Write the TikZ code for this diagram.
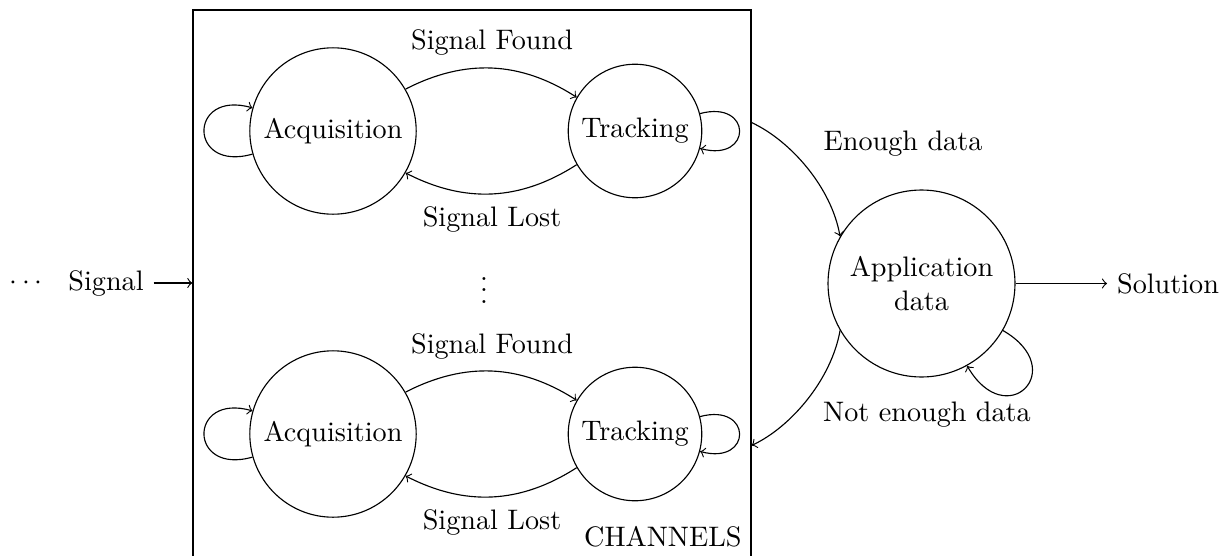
\documentclass[tikz,border=0pt]{standalone}
\usetikzlibrary{arrows}
\begin{document}
\begin{tikzpicture}[x=0.3546pt, y=-0.3546pt,
  state/.style={draw, circle},
  chanbox/.style={draw, rectangle, minimum width=197.9pt, minimum height=194.3pt},
  flow/.style={->}]
\useasboundingbox (0,0) rectangle (1231,556);

% channel container
\node[chanbox] (box) at (472,284) {};
\node[anchor=south east] (chan) at ([yshift=0.6pt]box.south east) {CHANNELS};

% first channel
\node[state, minimum size=59pt] (acq1) at (333,131) {Acquisition};
\node[state] (trk1) at (635,131) {Tracking};
\draw[flow] (acq1) to[bend left] (trk1);
\draw[flow] (trk1) to[bend left] (acq1);
\node (found1) at (492,42) {Signal Found};
\node (lost1) at (492,219) {Signal Lost};
\draw[flow] (acq1.196) .. controls +(196:23.8pt) and +(164:23.8pt) .. (acq1.164);
\draw[flow] (trk1.15) .. controls +(15:19.3pt) and +(-15:19.3pt) .. (trk1.-15);

% further channels
\node (vdots) at (484,282) {$\vdots$};

% last channel
\node[state, minimum size=59pt] (acq2) at (333,434) {Acquisition};
\node[state] (trk2) at (635,434) {Tracking};
\draw[flow] (acq2) to[bend left] (trk2);
\draw[flow] (trk2) to[bend left] (acq2);
\node (found2) at (492,346) {Signal Found};
\node (lost2) at (492,522) {Signal Lost};
\draw[flow] (acq2.196) .. controls +(196:23.8pt) and +(164:23.8pt) .. (acq2.164);
\draw[flow] (trk2.15) .. controls +(15:19.3pt) and +(-15:19.3pt) .. (trk2.-15);

% input
\node (dots) at (26,283) {$\cdots$};
\node (sig) at (106,283) {Signal};
\draw[flow] (sig) -- (sig -| box.west);

% application stage
\node[state, align=center, minimum size=66.3pt] (app) at (921.5,283.5) {Application\\data};
\node (sol) at (1168,283.5) {Solution};
\draw[flow] (app) -- (sol);

\draw[flow] (box.30) .. controls +(-25:15.3pt) and +(100:17.7pt) .. (app.150);
\draw[flow] (app.210) .. controls +(-100:17.7pt) and +(25:15.3pt) .. (box.-30);
\node (enough) at (903,144) {Enough data};
\node (notenough) at (927,415) {Not enough data};

\draw[flow] (app.-30) .. controls +(-30:27.7pt) and +(-60:27.7pt) .. (app.-61);
\end{tikzpicture}
\end{document}
